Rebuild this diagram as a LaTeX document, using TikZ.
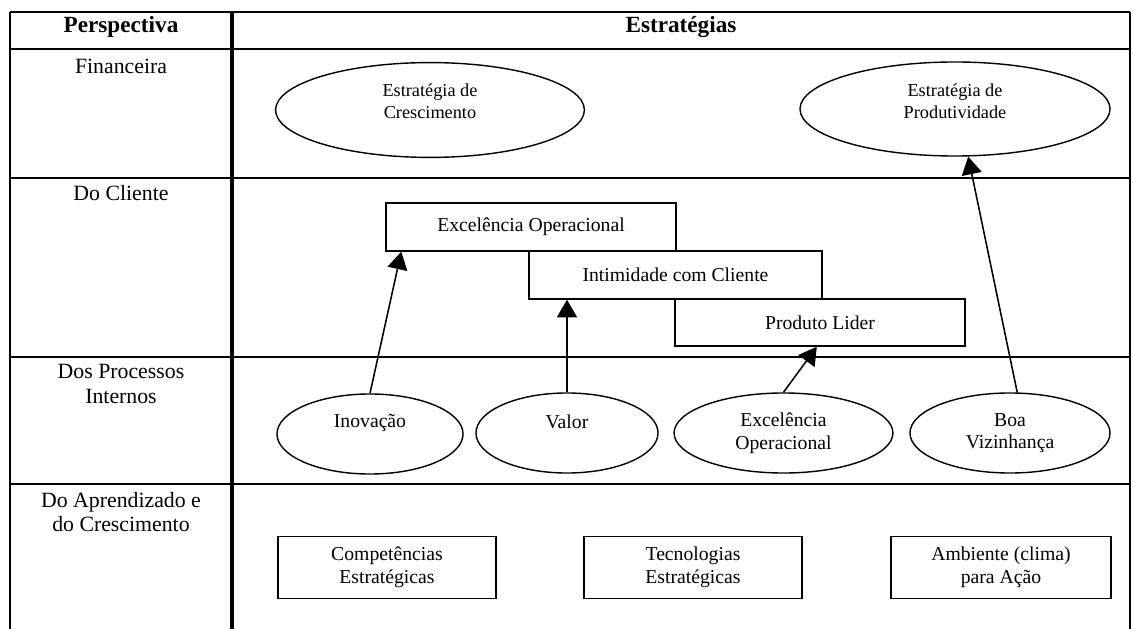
\documentclass[tikz,border=0pt]{standalone}
\usepackage{fontspec}
\setmainfont{Liberation Serif}
\usetikzlibrary{arrows.meta,shapes.geometric}

\begin{document}
\begin{tikzpicture}[x=0.025cm, y=-0.025cm,
  elipse/.style={draw, ellipse, line width=1pt, inner sep=0pt, minimum height=2cm, font=\fontsize{14}{16}\selectfont, align=center},
  caixa/.style={draw, rectangle, line width=1pt, inner sep=0pt, font=\fontsize{14}{16}\selectfont, align=center},
  txtelipse/.style={font=\fontsize{14}{16}\selectfont, align=center},
  seta/.style={line width=1.1pt, -{Triangle[width=0.5cm, length=0.44cm]}},
  titulo/.style={font=\fontsize{16.5}{19}\selectfont\bfseries},
  perspectiva/.style={font=\fontsize{15.5}{17.5}\selectfont, align=center}]
  \useasboundingbox (0,0) rectangle (1133,629);

  % Table frame
  \draw[line width=2pt] (10,12) -- (1130,12);
  \draw[line width=1.6pt] (10,12) -- (10,629);
  \draw[line width=1.1pt] (1130,12) -- (1130,629);
  \draw[line width=2pt] (10,49) -- (1130,49);
  \draw[line width=2.3pt] (232,12) -- (232,629);
  \foreach \y in {178,357,484}
    \draw[line width=1.1pt] (10,\y) -- (1130,\y);

  % Header row
  \node[titulo] (hpersp) at (121,27) {Perspectiva};
  \node[titulo] (hestrat) at (681,27) {Estratégias};

  % Perspectives
  \node[perspectiva] (pfin) at (121,66) {Financeira};
  \node[perspectiva] (pcli) at (121,193) {Do Cliente};
  \node[perspectiva] (pproc) at (121,384) {Dos Processos\\Internos};
  \node[perspectiva] (paprend) at (121,512) {Do Aprendizado e\\do Crescimento};

  % Financeira
  \node[elipse, minimum width=7.72cm, minimum height=2.37cm,
    label={[txtelipse, font=\fontsize{13}{15.5}\selectfont, yshift=0.22cm]center:Estratégia de\\Crescimento}] (ecresc) at (430,110) {};
  \node[elipse, minimum width=7.75cm, minimum height=2.35cm,
    label={[txtelipse, font=\fontsize{13}{15.5}\selectfont, yshift=0.2cm]center:Estratégia de\\Produtividade}] (eprod) at (955,109) {};

  % Do Cliente
  \node[caixa, minimum width=7.25cm, minimum height=1.2cm] (cexop) at (531,227) {Excelência Operacional};
  \node[caixa, minimum width=7.32cm, minimum height=1.2cm] (cintim) at (675.5,275) {Intimidade com Cliente};
  \node[caixa, minimum width=7.25cm, minimum height=1.18cm] (cprod) at (820,322.5) {Produto Lider};

  % Processos internos
  \node[elipse, minimum width=4.65cm, label={[txtelipse, yshift=0.28cm]center:Inovação}] (inov) at (370,434) {};
  \node[elipse, minimum width=4.55cm, label={[txtelipse, yshift=0.27cm]center:Valor}] (valor) at (567,433) {};
  \node[elipse, minimum width=5.47cm] (exop) at (783.5,433) {Excelência\\Operacional};
  \node[elipse, minimum width=5cm] (boa) at (1010,433) {Boa\\Vizinhança};

  % Aprendizado e crescimento
  \node[caixa, minimum width=5.45cm, minimum height=1.55cm] (bcomp) at (387,567.5) {Competências\\Estratégicas};
  \node[caixa, minimum width=5.45cm, minimum height=1.55cm] (btec) at (693,567.5) {Tecnologias\\Estratégicas};
  \node[caixa, minimum width=5.5cm, minimum height=1.55cm] (bamb) at (1001,567.5) {Ambiente (clima)\\para Ação};

  % Arrows
  \draw[seta] (inov.north) -- ([xshift=0.4cm]cexop.south west);
  \draw[seta] (valor.north) -- (valor.north |- cintim.south);
  \draw[seta] (exop.north) -- ([xshift=-0.08cm]cprod.south);
  \draw[seta] ([xshift=0.18cm]boa.north) -- ([xshift=0.33cm]eprod.south);
\end{tikzpicture}
\end{document}
